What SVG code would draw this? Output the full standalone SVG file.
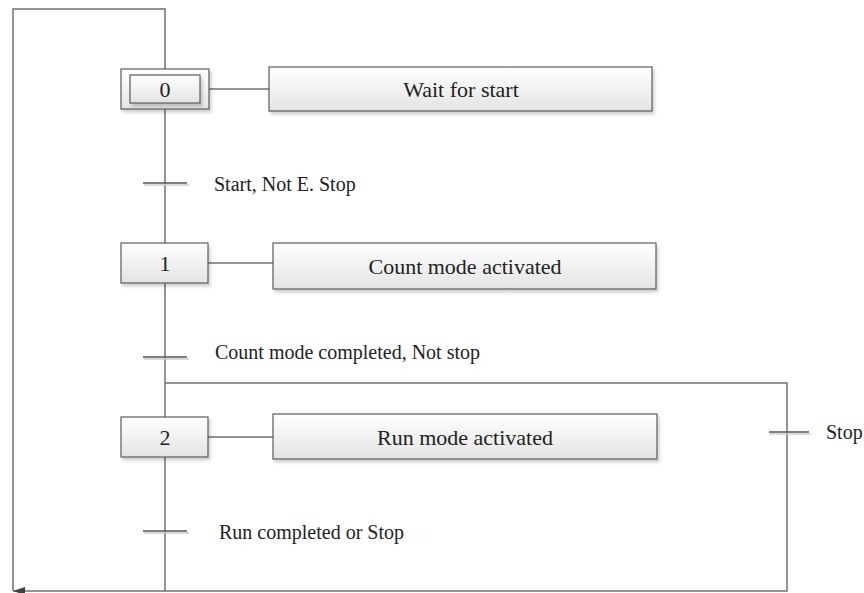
<svg xmlns="http://www.w3.org/2000/svg" width="864" height="593" viewBox="0 0 864 593">
<defs>
<linearGradient id="g" x1="0" y1="0" x2="0" y2="1">
<stop offset="0" stop-color="#ffffff"/>
<stop offset="1" stop-color="#e4e4e4"/>
</linearGradient>
<filter id="sh" x="-10%" y="-20%" width="125%" height="160%">
<feDropShadow dx="2" dy="3" stdDeviation="1.5" flood-color="#000" flood-opacity="0.18"/>
</filter>
<marker id="arr" viewBox="0 0 12 10" refX="12" refY="5" markerWidth="12" markerHeight="10" markerUnits="userSpaceOnUse" orient="auto">
<path d="M0,1 L12,5 L0,9 Z" fill="#404040"/>
</marker>
<style>
.box{fill:url(#g);stroke:#5a5a5a;stroke-width:1.2;filter:url(#sh)}
.ln{fill:none;stroke:#707070;stroke-width:1.5}
.tr{stroke:#555;stroke-width:1.3}
.trs{stroke:#ccc;stroke-width:1.5}
.bt{font-size:22px;fill:#222;text-anchor:middle}
.lt{font-size:20px;fill:#222}
</style>
</defs>
<g id="connectors">
<polyline class="ln" points="165,69 165,9 13,9 13,591"/>
<line class="ln" x1="165" y1="109" x2="165" y2="243"/>
<line class="ln" x1="165" y1="283" x2="165" y2="417"/>
<line class="ln" x1="165" y1="457" x2="165" y2="591"/>
<polyline class="ln" points="165,383 787,383 787,591 13,591" marker-end="url(#arr)"/>
<line class="ln" x1="209" y1="89" x2="269" y2="89"/>
<line class="ln" x1="208" y1="263" x2="273" y2="263"/>
<line class="ln" x1="208" y1="437" x2="273" y2="437"/>
</g>
<g id="transitions" font-family="Liberation Serif, Times New Roman, serif">
<line class="trs" x1="144" y1="185" x2="189" y2="185"/>
<line class="tr" x1="143" y1="183" x2="187" y2="183"/>
<line class="trs" x1="144" y1="359" x2="189" y2="359"/>
<line class="tr" x1="143" y1="357" x2="187" y2="357"/>
<line class="trs" x1="144" y1="533" x2="189" y2="533"/>
<line class="tr" x1="143" y1="531" x2="187" y2="531"/>
<line class="trs" x1="770" y1="434" x2="811" y2="434"/>
<line class="tr" x1="769" y1="432" x2="809" y2="432"/>
<text class="lt" x="214" y="191">Start, Not E. Stop</text>
<text class="lt" x="215" y="359">Count mode completed, Not stop</text>
<text class="lt" x="219" y="539">Run completed or Stop</text>
<text class="lt" x="826" y="439">Stop</text>
</g>
<g id="step0" font-family="Liberation Serif, Times New Roman, serif">
<rect class="box" x="121" y="69" width="88" height="40"/>
<rect class="box" x="130" y="75" width="70" height="28"/>
<text class="bt" x="165" y="97">0</text>
</g>
<g id="action0" font-family="Liberation Serif, Times New Roman, serif">
<rect class="box" x="269" y="67" width="383" height="44"/>
<text class="bt" x="461" y="97">Wait for start</text>
</g>
<g id="step1" font-family="Liberation Serif, Times New Roman, serif">
<rect class="box" x="121" y="243" width="87" height="40"/>
<text class="bt" x="165" y="271">1</text>
</g>
<g id="action1" font-family="Liberation Serif, Times New Roman, serif">
<rect class="box" x="273" y="243" width="383" height="46"/>
<text class="bt" x="465" y="274">Count mode activated</text>
</g>
<g id="step2" font-family="Liberation Serif, Times New Roman, serif">
<rect class="box" x="121" y="417" width="87" height="40"/>
<text class="bt" x="165" y="445">2</text>
</g>
<g id="action2" font-family="Liberation Serif, Times New Roman, serif">
<rect class="box" x="273" y="414" width="384" height="45"/>
<text class="bt" x="465" y="445">Run mode activated</text>
</g>
</svg>
